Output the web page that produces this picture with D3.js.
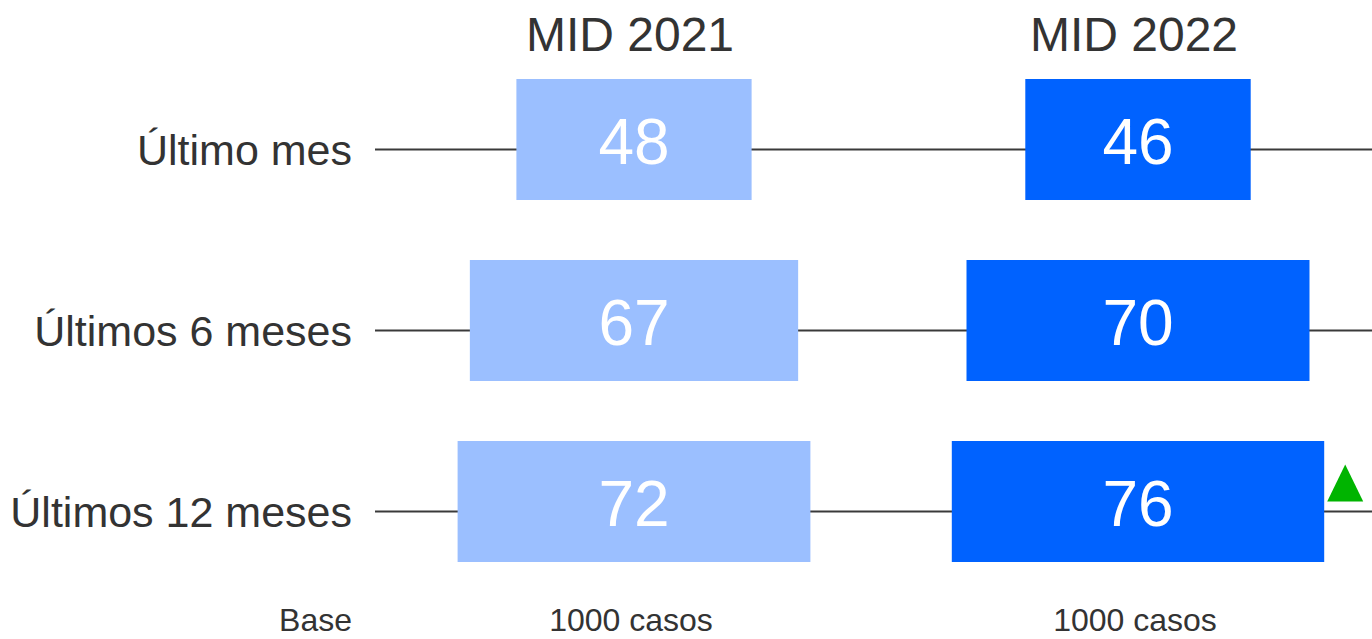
<!DOCTYPE html>
<html>
<head>
<meta charset="utf-8">
<script src="https://cdn.jsdelivr.net/npm/d3@7"></script>
<style>
  html, body { margin: 0; padding: 0; background: #fff; }
  svg { display: block; font-family: Arial, "Liberation Sans", sans-serif; }
</style>
</head>
<body>
<svg id="chart" width="1372" height="639"></svg>
<script>
const categories = ["Último mes", "Últimos 6 meses", "Últimos 12 meses"];
const periods = ["MID 2021", "MID 2022"];
const values2021 = [48, 67, 72];
const values2022 = [46, 70, 76];
const signif2022 = ["", "", "up"];
const baseLabel = "Base";
const baseValues = ["1000 casos", "1000 casos"];

const W = 1372, H = 639;
const svg = d3.select("#chart");
const textColor = "#333333";
const colors = {"MID 2021": "#9bbfff", "MID 2022": "#0062ff"};

const xCenter = d3.scalePoint().domain(periods).range([634, 1138]);
const wScale = d3.scaleLinear().domain([0, 100]).range([0, 490]);
const yLine = d3.scalePoint().domain(categories).range([149.5, 511.5]);
const barH = 121;
const barOffset = -10; // bar center relative to line

// lines
svg.selectAll("line.row").data(categories).join("line")
  .attr("class", "row")
  .attr("x1", 375).attr("x2", W)
  .attr("y1", d => yLine(d)).attr("y2", d => yLine(d))
  .attr("stroke", "#3a3a3a").attr("stroke-width", 2);

// row labels
svg.selectAll("text.cat").data(categories).join("text")
  .attr("class", "cat")
  .attr("x", 352).attr("y", d => yLine(d) + 15)
  .attr("text-anchor", "end")
  .attr("font-size", 43)
  .attr("fill", textColor)
  .text(d => d);

// headers
svg.selectAll("text.hdr").data(periods).join("text")
  .attr("class", "hdr")
  .attr("x", d => xCenter(d) - 4).attr("y", 51)
  .attr("text-anchor", "middle")
  .attr("font-size", 48)
  .attr("fill", textColor)
  .text(d => d);

const data = [];
categories.forEach((c, i) => {
  data.push({cat: c, period: "MID 2021", value: values2021[i], sig: ""});
  data.push({cat: c, period: "MID 2022", value: values2022[i], sig: signif2022[i]});
});

const g = svg.selectAll("g.bar").data(data).join("g").attr("class", "bar");
g.append("rect")
  .attr("x", d => xCenter(d.period) - wScale(d.value) / 2)
  .attr("y", d => yLine(d.cat) + barOffset - barH / 2)
  .attr("width", d => wScale(d.value))
  .attr("height", barH)
  .attr("fill", d => colors[d.period]);
g.append("text")
  .attr("x", d => xCenter(d.period))
  .attr("y", d => yLine(d.cat) + barOffset + 24.5)
  .attr("text-anchor", "middle")
  .attr("font-size", 64)
  .attr("fill", "#ffffff")
  .text(d => d.value);

// significance triangles
const tri = data.filter(d => d.sig === "up");
svg.selectAll("path.sig").data(tri).join("path")
  .attr("class", "sig")
  .attr("d", d => {
    const cx = xCenter(d.period) + wScale(d.value) / 2 + 21;
    const bottom = yLine(d.cat) + barOffset;
    const top = bottom - 37;
    return `M${cx - 18},${bottom} L${cx + 18},${bottom} L${cx},${top} Z`;
  })
  .attr("fill", "#00b400");

// base row
svg.append("text")
  .attr("x", 352).attr("y", 631)
  .attr("text-anchor", "end")
  .attr("font-size", 32)
  .attr("fill", textColor)
  .text(baseLabel);
svg.selectAll("text.base").data(periods).join("text")
  .attr("class", "base")
  .attr("x", d => xCenter(d) - 3).attr("y", 631)
  .attr("text-anchor", "middle")
  .attr("font-size", 32)
  .attr("fill", textColor)
  .text((d, i) => baseValues[i]);
</script>
</body>
</html>
